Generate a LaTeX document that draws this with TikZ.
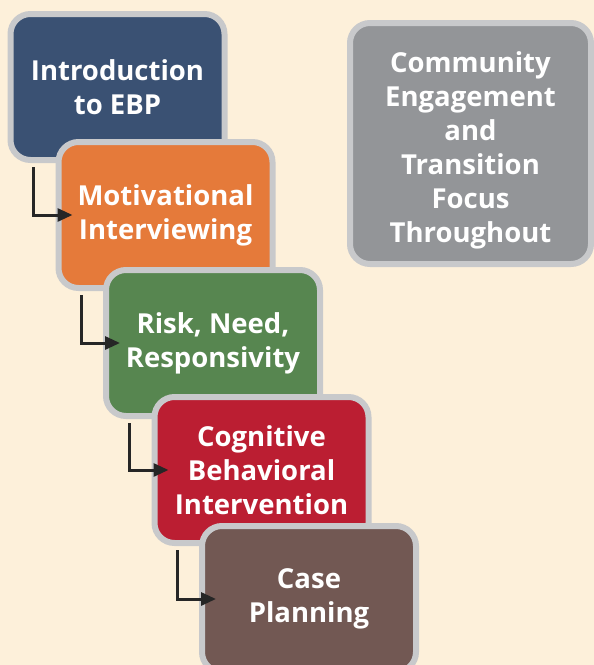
\documentclass[tikz,border=0pt]{standalone}
\usepackage{fontspec}
\setmainfont{Open Sans}
\usepackage{xcolor}
\usepackage{tikz}
\usetikzlibrary{arrows.meta}

\definecolor{bgcream}{RGB}{253,240,218}
\definecolor{rimgray}{RGB}{200,201,203}
\definecolor{ebpblue}{RGB}{58,81,115}
\definecolor{miorange}{RGB}{229,122,58}
\definecolor{rnrgreen}{RGB}{87,134,80}
\definecolor{cbired}{RGB}{187,30,50}
\definecolor{cpbrown}{RGB}{114,88,83}
\definecolor{cegray}{RGB}{147,149,152}

\tikzset{
  stage/.style={draw=rimgray, line width=6pt, rounded corners=20pt,
    minimum width=214pt, minimum height=146pt, text=white, align=center,
    font=\bfseries\fontsize{27.5}{34}\selectfont},
  flow/.style={line width=3pt, -{Triangle[length=15pt,width=13pt]}, color=black!85}
}

\begin{document}
\begin{tikzpicture}[x=1pt,y=-1pt]
\useasboundingbox[fill=bgcream] (0,0) rectangle (594,665);
% steps of the training sequence
\node[stage, fill=ebpblue] (intro) at (117.5,87) {Introduction\\to EBP};
\node[stage, fill=miorange] (motiv) at (165.5,215) {Motivational\\Interviewing};
\node[stage, fill=rnrgreen] (risk) at (213,343) {Risk, Need,\\Responsivity};
\node[stage, fill=cbired] (cbi) at (261.5,470) {Cognitive\\Behavioral\\Intervention};
\node[stage, fill=cpbrown] (plan) at (309,599) {Case\\Planning};
% ongoing focus
\node[stage, fill=cegray, minimum width=241pt, minimum height=241pt] (focus) at (470.5,143.5)
  {\rule{0pt}{34pt}Community\\Engagement\\and\\Transition\\Focus\\Throughout};
% arrows
\draw[flow] ([xshift=26pt,yshift=-4pt]intro.south west) |- ([xshift=17pt]motiv.west);
\draw[flow] ([xshift=26pt,yshift=-4pt]motiv.south west) |- ([xshift=17pt]risk.west);
\draw[flow] ([xshift=26pt,yshift=-4pt]risk.south west) |- ([xshift=17pt]cbi.west);
\draw[flow] ([xshift=26pt,yshift=-4pt]cbi.south west) |- ([xshift=17pt]plan.west);
\end{tikzpicture}
\end{document}
